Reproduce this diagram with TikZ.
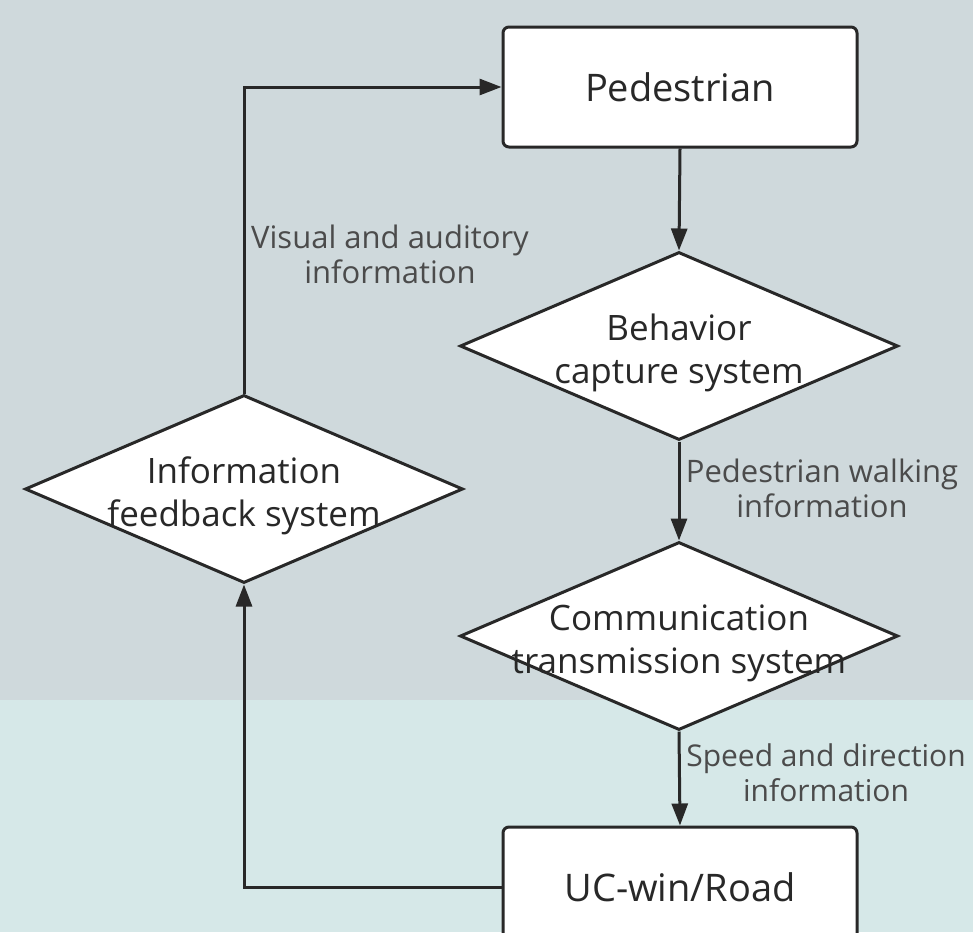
\documentclass[tikz,border=0pt]{standalone}
\usepackage{fontspec}
\setmainfont{Open Sans}
\usetikzlibrary{positioning,shapes.geometric,arrows.meta}

\definecolor{bgtop}{RGB}{207,217,220}
\definecolor{bgbot}{RGB}{214,232,232}
\definecolor{linecol}{RGB}{40,40,40}
\definecolor{notecol}{RGB}{75,75,75}

\tikzset{
  box/.style={draw=linecol, line width=1.5pt, fill=white, rounded corners=3pt,
    minimum width=177pt, minimum height=60pt, text=linecol,
    font=\fontsize{19}{23}\selectfont},
  decision/.style={diamond, draw=linecol, line width=1.5pt, fill=white,
    minimum width=219pt, minimum height=94pt, inner sep=0pt},
  dtext/.style={align=center, text=linecol, yshift=-3.5pt,
    font=\fontsize{17.5}{21.5}\selectfont},
  flow/.style={draw=linecol, line width=1.5pt, -{Triangle[length=11pt,width=8pt]}},
  note/.style={align=center, text=notecol, font=\fontsize{15.5}{17.5}\selectfont}
}

\begin{document}
\begin{tikzpicture}[x=0.5pt,y=-0.5pt]

% background
\clip (0,0) rectangle (973,932);
\useasboundingbox (0,0) rectangle (973,932);
\fill[bgtop] (0,0) rectangle (973,700);
\fill[bgbot] (0,700) rectangle (973,932);

% boxes and decisions
\node[box] (ped) at (680,87) {Pedestrian};
\node[decision, label={[dtext]center:Behavior\\capture system}] (beh) at (679,346) {};
\node[decision, label={[dtext]center:Communication\\transmission system}] (comm) at (679,636) {};
\node[box] (ucw) at (680,887) {UC-win/Road};
\node[decision, label={[dtext]center:Information\\feedback system}] (fb) at (244,489) {};

% flows
\draw[flow] (ped.south) -- (beh.north);
\draw[flow] (beh.south) -- (comm.north);
\draw[flow] (comm.south) -- (ucw.north);
\draw[flow] (ucw.west) -| (fb.south);
\draw[flow] (fb.north) |- (ped.west);

% flow labels
\node[note] (visual) at (390,254) {Visual and auditory\\information};
\node[note] (walk) at (822,488) {Pedestrian walking\\information};
\node[note, font=\fontsize{15}{17.5}\selectfont] (speed) at (826,773) {Speed and direction\\information};

\end{tikzpicture}
\end{document}
